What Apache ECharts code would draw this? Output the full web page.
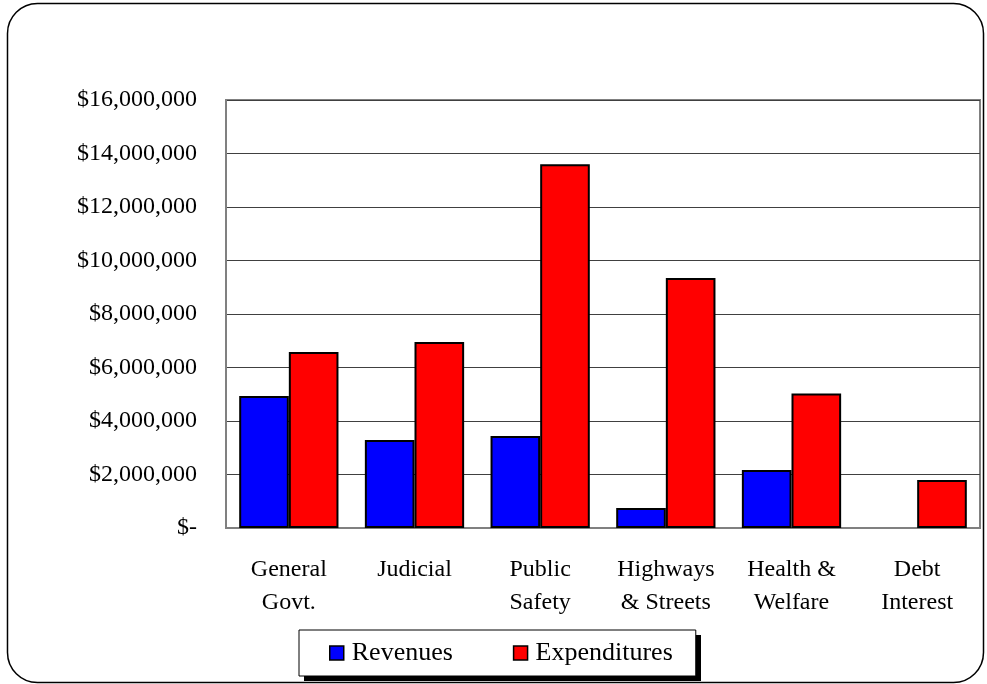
<!DOCTYPE html>
<html>
<head>
<meta charset="utf-8">
<script src="https://cdn.jsdelivr.net/npm/echarts@6/dist/echarts.min.js"></script>
<style>
html,body{margin:0;padding:0;background:#fff;}
#chart{width:987px;height:684px;}
</style>
</head>
<body>
<div id="chart"></div>
<script>
const categories = ['General\nGovt.', 'Judicial', 'Public\nSafety', 'Highways\n& Streets', 'Health &\nWelfare', 'Debt\nInterest'];
const revenues = [4930000, 3290000, 3440000, 750000, 2170000, 0];
const expenditures = [6580000, 6950000, 13600000, 9350000, 5030000, 1790000];
const yTickLabels = ['$-', '$2,000,000', '$4,000,000', '$6,000,000', '$8,000,000', '$10,000,000', '$12,000,000', '$14,000,000', '$16,000,000'];

const chart = echarts.init(document.getElementById('chart'));
const FONT = 'Liberation Serif';
function toItems(arr) {
  return arr.map(function (v) { return v === 0 ? { value: v, itemStyle: { borderWidth: 0 } } : v; });
}
chart.setOption({
  animation: false,
  backgroundColor: '#fff',
  textStyle: { fontFamily: FONT, color: '#000' },
  graphic: [
    { type: 'rect', z: -10, shape: { x: 7.5, y: 3.5, width: 976, height: 679, r: 30 },
      style: { fill: '#fff', stroke: '#000', lineWidth: 1.5 } },
    { type: 'rect', z: 1, shape: { x: 304, y: 635, width: 397, height: 46 },
      style: { fill: '#000' } }
  ],
  grid: { left: 226, right: 7, top: 100, bottom: 156, show: true, borderColor: '#808080', borderWidth: 2, backgroundColor: 'transparent' },
  legend: {
    left: 299, top: 630,
    z: 5,
    padding: [9, 23, 9, 30],
    icon: 'rect',
    itemWidth: 14, itemHeight: 14, itemGap: 60,
    backgroundColor: '#fff', borderColor: '#000', borderWidth: 1,
    textStyle: { fontFamily: FONT, fontSize: 26, color: '#000', padding: [0, 0, 0, 3], lineHeight: 28 },
    itemStyle: { borderColor: '#000', borderWidth: 1.5 },
    data: ['Revenues', 'Expenditures']
  },
  xAxis: {
    type: 'category',
    data: categories,
    axisLine: { lineStyle: { color: '#808080', width: 2 } },
    axisTick: { show: false },
    axisLabel: { fontFamily: FONT, fontSize: 24, color: '#000', lineHeight: 33, margin: 25, interval: 0 }
  },
  yAxis: {
    type: 'value',
    min: 0, max: 16000000, interval: 2000000,
    axisLine: { show: true, lineStyle: { color: '#808080', width: 2 } },
    axisTick: { show: false },
    splitLine: { lineStyle: { color: '#404040', width: 1 } },
    axisLabel: {
      fontFamily: FONT, fontSize: 24, color: '#000', margin: 29,
      formatter: function (v) { return yTickLabels[Math.round(v / 2000000)]; }
    }
  },
  series: [
    { name: 'Revenues', type: 'bar', data: toItems(revenues), barGap: '0%', barCategoryGap: '21%',
      itemStyle: { color: '#0000ff', borderColor: '#000', borderWidth: 2 } },
    { name: 'Expenditures', type: 'bar', data: toItems(expenditures), barGap: '0%', barCategoryGap: '21%',
      itemStyle: { color: '#ff0000', borderColor: '#000', borderWidth: 2 } }
  ]
});
</script>
</body>
</html>
